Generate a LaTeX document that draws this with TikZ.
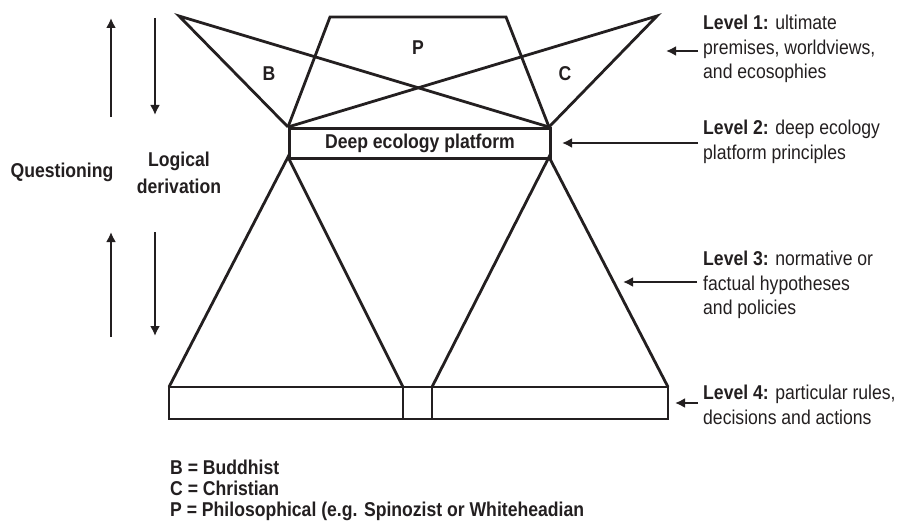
\documentclass[tikz,border=0pt]{standalone}
\usepackage{fontspec}
\setmainfont{Liberation Sans}[FakeStretch=0.88]
\usetikzlibrary{arrows.meta}
\definecolor{ink}{RGB}{35,31,32}
\tikzset{
  shp/.style={draw=ink, line width=2.8pt, line join=miter},
  arr/.style={draw=ink, line width=2.5pt, -{Latex[length=10pt,width=10pt]}},
  lvl/.style={anchor=west, inner sep=0pt, align=left, text=ink, font=\fontsize{20}{24.5}\selectfont},
  lab/.style={inner sep=0pt, text=ink, font=\fontsize{20}{22}\selectfont\bfseries},
  leg/.style={anchor=base west, inner sep=0pt, text=ink, font=\fontsize{20}{21}\selectfont\bfseries}
}
\begin{document}
\begin{tikzpicture}[x=1pt,y=-1pt]
\useasboundingbox (0,0) rectangle (909,524);
% vertices
\coordinate (B1) at (179,16);
\coordinate (C1) at (657,16);
\coordinate (P1) at (330,17);
\coordinate (P2) at (506,17);
\coordinate (TL) at (288,127);
\coordinate (TR) at (549,127);
\coordinate (ML) at (288,157);
\coordinate (MR) at (549,157);
\coordinate (BL) at (169,387);
\coordinate (BR) at (668,387);
\coordinate (V1) at (403,387);
\coordinate (V2) at (432,387);
% upper figures
\draw[shp] (TL) -- (B1) -- (TR);
\draw[shp] (TR) -- (C1) -- (TL);
\draw[shp] (TL) -- (P1) -- (P2) -- (TR);
\node[shp, draw, minimum width=261pt, minimum height=30pt, inner sep=0pt, anchor=north west,
      text=ink, font=\fontsize{20}{22}\selectfont\bfseries] (plat) at (TL) {Deep ecology platform};
% lower figures
\draw[shp] (BL) -- (ML) -- (V1);
\draw[shp] (V2) -- (MR) -- (BR);
\draw[shp] (BL) rectangle (668,419);
\draw[shp] (V1) -- (403,419);
\draw[shp] (V2) -- (432,419);
% labels
\node[lab] (lB) at (269,74) {B};
\node[lab] (lP) at (418,48) {P};
\node[lab] (lC) at (565,74) {C};
% left arrows
\coordinate (u1a) at (111,117); \coordinate (u1b) at (111,18);
\coordinate (d1a) at (155,18);  \coordinate (d1b) at (155,115);
\coordinate (u2a) at (111,337); \coordinate (u2b) at (111,232);
\coordinate (d2a) at (155,232); \coordinate (d2b) at (155,336);
\draw[arr] (u1a) -- (u1b);
\draw[arr] (d1a) -- (d1b);
\draw[arr] (u2a) -- (u2b);
\draw[arr] (d2a) -- (d2b);
\node[lab] (q) at (62,172) {Questioning};
\node[lab, align=center, font=\fontsize{20}{27}\selectfont\bfseries] (ld) at (179,173) {Logical\\derivation};
% level texts
\node[lvl] (L1) at (703,49) {\textbf{Level 1:} ultimate\\premises, worldviews,\\and ecosophies};
\node[lvl] (L2) at (703,142) {\textbf{Level 2:} deep ecology\\platform principles};
\node[lvl] (L3) at (703,285) {\textbf{Level 3:} normative or\\factual hypotheses\\and policies};
\node[lvl] (L4) at (703,405) {\textbf{Level 4:} particular rules,\\decisions and actions};
\coordinate (a1) at (666,51);
\coordinate (a2) at (562,143);
\coordinate (a3) at (623,282);
\coordinate (a4) at (675,403);
\draw[arr] (L1.west) ++(-5,2) -- (a1);
\draw[arr] (L2.west) ++(-5,1) -- (a2);
\draw[arr] (L3.west) ++(-6,-3) -- (a3);
\draw[arr] (L4.west) ++(-5,-2) -- (a4);
% legend
\node[leg] (g1) at (170,474) {B = Buddhist};
\node[leg] (g2) at (170,495) {C = Christian};
\node[leg] (g3) at (170,516) {P = Philosophical (e.g. Spinozist or Whiteheadian};
\end{tikzpicture}
\end{document}
